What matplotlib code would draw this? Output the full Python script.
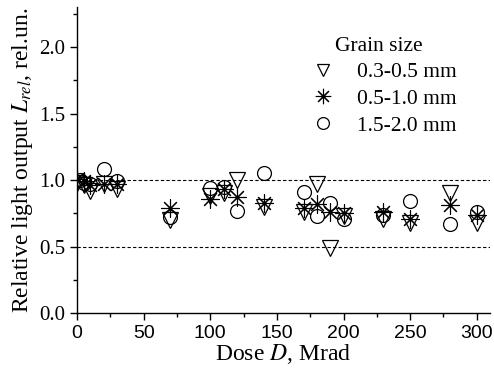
import matplotlib
matplotlib.use("Agg")
import matplotlib.pyplot as plt
from matplotlib.ticker import MultipleLocator

plt.rcParams['font.family'] = 'Liberation Serif'
plt.rcParams['mathtext.fontset'] = 'stix'

# Relative light output vs. dose for three grain sizes
dose_small = [0, 5, 10, 20, 30, 70, 100, 110, 120, 140, 170, 180, 190, 200, 230, 250, 280, 300]
light_small = [0.98, 0.96, 0.92, 0.97, 0.93, 0.70, 0.88, 0.90, 1.00, 0.80, 0.76, 0.97, 0.49, 0.73, 0.71, 0.68, 0.90, 0.68]

dose_mid = [0, 5, 10, 20, 30, 70, 100, 110, 120, 140, 170, 180, 190, 200, 230, 250, 280, 300]
light_mid = [1.01, 0.99, 0.96, 0.97, 0.97, 0.79, 0.86, 0.93, 0.87, 0.83, 0.79, 0.82, 0.76, 0.75, 0.76, 0.71, 0.81, 0.74]

dose_large = [2, 5, 10, 20, 30, 70, 100, 110, 120, 140, 170, 180, 190, 200, 230, 250, 280, 300]
light_large = [1.00, 0.98, 0.97, 1.08, 0.99, 0.72, 0.94, 0.95, 0.77, 1.05, 0.91, 0.73, 0.83, 0.71, 0.74, 0.84, 0.67, 0.76]

labels = ['0.3-0.5 mm', '0.5-1.0 mm', '1.5-2.0 mm']

fig = plt.figure(figsize=(4.94, 3.78), dpi=100)
ax = fig.add_axes([0.156, 0.172, 0.836, 0.809])

ax.axhline(1.0, color='black', linestyle=(0, (3, 2)), linewidth=0.8)
ax.axhline(0.5, color='black', linestyle=(0, (3, 2)), linewidth=0.8)

ax.plot(dose_small, light_small, linestyle='none', marker='v', markersize=11,
        markerfacecolor='none', markeredgecolor='black', markeredgewidth=0.9, label=labels[0])
ax.plot(dose_mid, light_mid, linestyle='none', marker=(8, 2, 0), markersize=13,
        markeredgecolor='black', markeredgewidth=0.8, label=labels[1])
ax.plot(dose_large, light_large, linestyle='none', marker='o', markersize=10,
        markerfacecolor='none', markeredgecolor='black', markeredgewidth=0.9, label=labels[2])

ax.set_xlim(0, 310)
ax.set_ylim(0, 2.3)
ax.xaxis.set_major_locator(MultipleLocator(50))
ax.xaxis.set_minor_locator(MultipleLocator(25))
ax.yaxis.set_major_locator(MultipleLocator(0.5))
ax.yaxis.set_minor_locator(MultipleLocator(0.25))
ax.yaxis.set_major_formatter(plt.FormatStrFormatter('%.1f'))

for side in ['top', 'right']:
    ax.spines[side].set_visible(False)
for side in ['left', 'bottom']:
    ax.spines[side].set_linewidth(1.0)

ax.tick_params(which='major', direction='out', length=5, width=1.0, labelsize=15)
ax.tick_params(which='minor', direction='out', length=3, width=1.0)
for lbl in ax.get_xticklabels():
    lbl.set_family('Liberation Sans')
    lbl.set_fontsize(14)

ax.set_xlabel('Dose $D$, Mrad', fontsize=17, labelpad=0)
ax.set_ylabel('Relative light output $L_{rel}$, rel.un.', fontsize=17, labelpad=3)

leg = ax.legend(title='Grain size', loc='upper right', bbox_to_anchor=(0.95, 0.945),
                frameon=False, fontsize=15.5, title_fontsize=15.5, handletextpad=0.55,
                labelspacing=0.3, markerscale=0.85, borderaxespad=0.2)

fig.savefig('out.png', dpi=100)
